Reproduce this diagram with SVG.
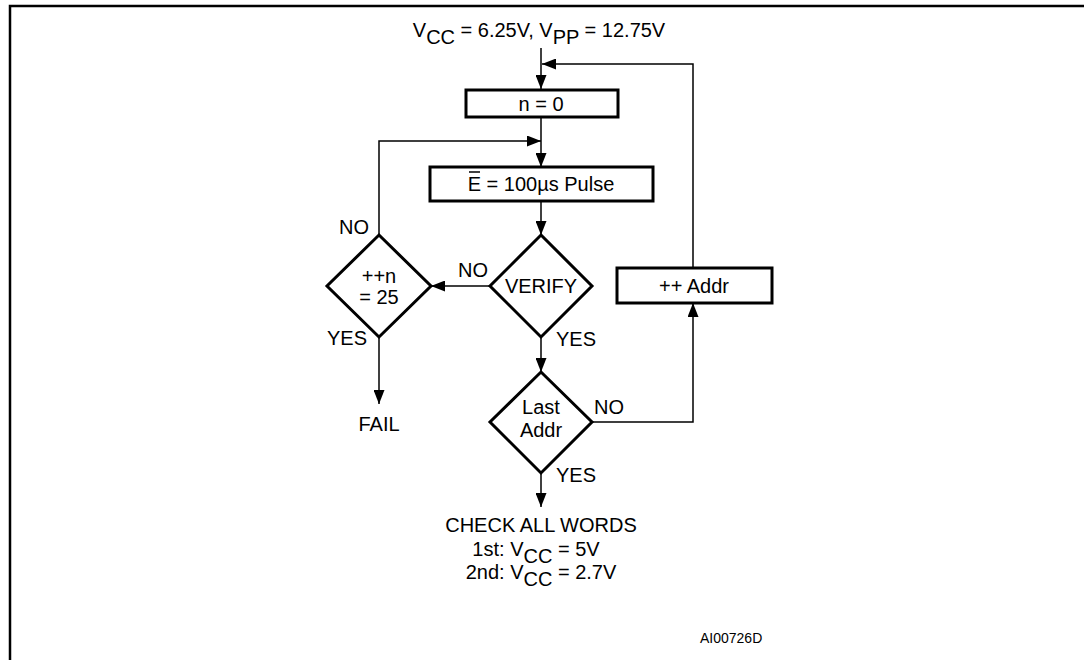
<svg xmlns="http://www.w3.org/2000/svg" width="1084" height="660" viewBox="0 0 1084 660">
<style>
text{font-family:"Liberation Sans",Arial,sans-serif;font-size:20px;fill:#000}
.box{fill:#fff;stroke:#000;stroke-width:3}
.conn{fill:none;stroke:#000;stroke-width:1.5}
.frame{fill:none;stroke:#000;stroke-width:2.5}
.mid{text-anchor:middle}
.small{font-size:14px}
</style>
<defs>
<marker id="arr" markerUnits="userSpaceOnUse" markerWidth="14" markerHeight="11" refX="14" refY="5.5" orient="auto">
<path d="M0,0 L14,5.5 L0,11 z" fill="#000"/>
</marker>
</defs>
<g id="frame">
<path class="frame" d="M10,660 V6 H1084"/>
</g>
<g id="connectors">
<path class="conn" d="M541,48 V89" marker-end="url(#arr)"/>
<path class="conn" d="M541,117 V167" marker-end="url(#arr)"/>
<path class="conn" d="M541,201 V235" marker-end="url(#arr)"/>
<path class="conn" d="M490,286 H431" marker-end="url(#arr)"/>
<path class="conn" d="M379,235 V141 H541" marker-end="url(#arr)"/>
<path class="conn" d="M379,337 V404" marker-end="url(#arr)"/>
<path class="conn" d="M541,337 V372" marker-end="url(#arr)"/>
<path class="conn" d="M592,422 H693 V303" marker-end="url(#arr)"/>
<path class="conn" d="M693,268 V64 H542" marker-end="url(#arr)"/>
<path class="conn" d="M541,473 V507" marker-end="url(#arr)"/>
</g>
<g id="start">
<text x="539" y="37" class="mid">V<tspan dy="7">CC</tspan><tspan dy="-7"> = 6.25V, V</tspan><tspan dy="7">PP</tspan><tspan dy="-7"> = 12.75V</tspan></text>
</g>
<g id="n0">
<rect class="box" x="466" y="90" width="152" height="27"/>
<text x="541" y="111" class="mid">n = 0</text>
</g>
<g id="pulse">
<rect class="box" x="430" y="167" width="223" height="34"/>
<text x="541" y="191" class="mid">E = 100µs Pulse</text>
<line x1="469" y1="172" x2="480" y2="172" stroke="#000" stroke-width="1.5"/>
</g>
<g id="verify">
<path class="box" d="M541,235 L592,286 L541,337 L490,286 z"/>
<text x="541" y="293" class="mid">VERIFY</text>
<text x="458" y="277">NO</text>
<text x="556" y="346">YES</text>
</g>
<g id="count">
<path class="box" d="M379,235 L431,286 L379,337 L327,286 z"/>
<text x="379" y="283" class="mid">++n</text>
<text x="379" y="304" class="mid">= 25</text>
<text x="339" y="234">NO</text>
<text x="327" y="345">YES</text>
</g>
<g id="fail">
<text x="379" y="431" class="mid">FAIL</text>
</g>
<g id="lastaddr">
<path class="box" d="M541,372 L592,422 L541,473 L490,422 z"/>
<text x="541" y="414" class="mid">Last</text>
<text x="541" y="437" class="mid">Addr</text>
<text x="594" y="414">NO</text>
<text x="556" y="482">YES</text>
</g>
<g id="incaddr">
<rect class="box" x="617" y="268" width="155" height="35"/>
<text x="694" y="293" class="mid">++ Addr</text>
</g>
<g id="check">
<text x="541" y="532" class="mid">CHECK ALL WORDS</text>
<text x="536" y="556" class="mid">1st: V<tspan dy="7">CC</tspan><tspan dy="-7"> = 5V</tspan></text>
<text x="541" y="579" class="mid">2nd: V<tspan dy="7">CC</tspan><tspan dy="-7"> = 2.7V</tspan></text>
</g>
<g id="ref">
<text x="700" y="643" class="small">AI00726D</text>
</g>
</svg>
